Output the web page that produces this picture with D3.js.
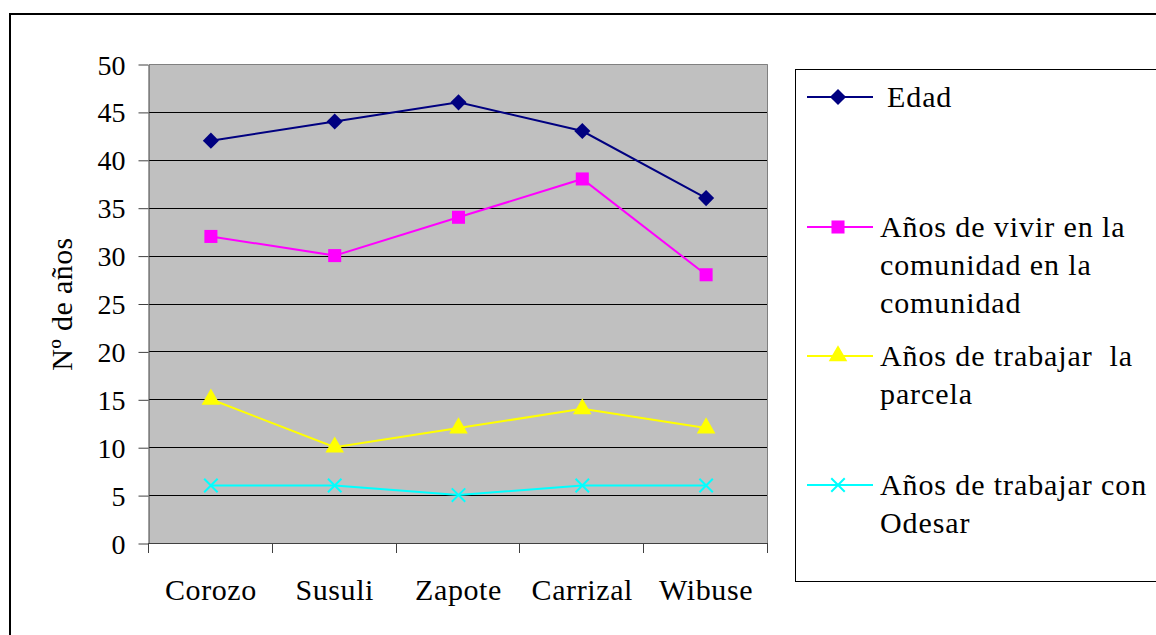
<!DOCTYPE html>
<html>
<head>
<meta charset="utf-8">
<script src="https://cdn.jsdelivr.net/npm/d3@7"></script>
<style>
  body { margin: 0; background: #fff; }
  svg { display: block; }
</style>
</head>
<body>
<svg width="1156" height="635"></svg>
<script>
const WIDTH = 1156;
const HEIGHT = 635;
const FONT = 'Liberation Serif';

// data
const CATEGORIES = ['Corozo', 'Susuli', 'Zapote', 'Carrizal', 'Wibuse'];
const EDAD = [42, 44, 46, 43, 36];
const VIVIR = [32, 30, 34, 38, 28];
const PARCELA = [15, 10, 12, 14, 12];
const ODESAR = [6, 6, 5, 6, 6];
const Y_TICKS = [0, 5, 10, 15, 20, 25, 30, 35, 40, 45, 50];

const SERIES = [
  {name: ['Edad'], values: EDAD, color: '#000080', symbol: d3.symbolSquare, size: 130, rotate: 45},
  {name: ['Años de vivir en la', 'comunidad en la', 'comunidad'], values: VIVIR, color: '#FF00FF', symbol: d3.symbolSquare, size: 170, rotate: 0},
  {name: ['Años de trabajar  la', 'parcela'], values: PARCELA, color: '#FFFF00', symbol: d3.symbolTriangle, size: 150, rotate: 0},
  {name: ['Años de trabajar con', 'Odesar'], values: ODESAR, color: '#00FFFF', symbol: d3.symbolTimes, size: 120, rotate: 0},
];

const plot = {left: 149, top: 64, right: 768, bottom: 543};

const svg = d3.select('svg');

function serif(sel, size, spacing) {
  sel.attr('font-family', FONT)
    .attr('font-size', size)
    .attr('fill', '#000');
  if (spacing) sel.attr('letter-spacing', spacing);
  return sel;
}

// outer chart frame (runs off the page on right/bottom)
svg.append('rect')
  .attr('x', 10).attr('y', 14)
  .attr('width', WIDTH + 20).attr('height', HEIGHT + 20)
  .attr('fill', 'none').attr('stroke', '#000').attr('stroke-width', 2);

const x = d3.scaleBand().domain(CATEGORIES).range([plot.left, plot.right]);
const y = d3.scaleLinear().domain([0, 50]).range([plot.bottom, plot.top]);

// plot background
svg.append('rect')
  .attr('x', plot.left).attr('y', plot.top)
  .attr('width', plot.right - plot.left).attr('height', plot.bottom - plot.top)
  .attr('fill', '#C0C0C0');

// gridlines
svg.append('g')
  .selectAll('line')
  .data(Y_TICKS.filter((t) => t > 0 && t < 50))
  .join('line')
  .attr('x1', plot.left).attr('x2', plot.right)
  .attr('y1', (d) => Math.round(y(d)) + 0.5).attr('y2', (d) => Math.round(y(d)) + 0.5)
  .attr('stroke', '#000').attr('stroke-width', 1);

// plot border top/right
svg.append('path')
  .attr('d', `M${plot.left},${plot.top + 0.5}H${plot.right - 0.5}V${plot.bottom}`)
  .attr('fill', 'none').attr('stroke', '#808080').attr('stroke-width', 1);

// y axis
const yAxis = svg.append('g')
  .attr('transform', `translate(${plot.left - 0.5},0.5)`)
  .call(d3.axisLeft(y).tickValues(Y_TICKS).tickSize(10).tickPadding(13).tickSizeOuter(0))
  .attr('font-family', FONT);
yAxis.select('.domain').attr('stroke', '#404040');
yAxis.selectAll('.tick line').attr('stroke', '#404040');
serif(yAxis.selectAll('.tick text'), 28).attr('dy', '0.34em');

// x axis: tick marks at category boundaries
const boundaries = CATEGORIES.map((c) => x(c)).concat([x.range()[1]]);
svg.append('g')
  .selectAll('line')
  .data(boundaries)
  .join('line')
  .attr('x1', (d) => Math.round(d) - 0.5).attr('x2', (d) => Math.round(d) - 0.5)
  .attr('y1', plot.bottom).attr('y2', plot.bottom + 10)
  .attr('stroke', '#404040');
svg.append('line')
  .attr('x1', plot.left).attr('x2', plot.right)
  .attr('y1', plot.bottom + 0.5).attr('y2', plot.bottom + 0.5)
  .attr('stroke', '#404040');

const xAxis = svg.append('g')
  .attr('transform', `translate(0,${plot.bottom})`)
  .call(d3.axisBottom(x).tickSize(0).tickPadding(0))
  .attr('font-family', FONT);
xAxis.select('.domain').remove();
serif(xAxis.selectAll('.tick text'), 30, 0.6).attr('y', 57).attr('dy', 0);

// y title
serif(svg.append('text'), 30, 0.4)
  .attr('transform', 'translate(72,304) rotate(-90)')
  .attr('text-anchor', 'middle')
  .text('Nº de años');

// series
const cx = (i) => x(CATEGORIES[i]) + x.bandwidth() / 2;
const line = d3.line().x((d, i) => cx(i)).y((d) => y(d));

function marker(sel, s) {
  return sel
    .attr('d', d3.symbol().type(s.symbol).size(s.size))
    .attr('fill', s.symbol === d3.symbolTimes ? 'none' : s.color)
    .attr('stroke', s.color)
    .attr('stroke-width', s.symbol === d3.symbolTimes ? 2 : 0);
}

SERIES.forEach((s) => {
  const g = svg.append('g');
  g.append('path')
    .attr('d', line(s.values))
    .attr('fill', 'none')
    .attr('stroke', s.color)
    .attr('stroke-width', 2);
  g.selectAll('path.m')
    .data(s.values)
    .join('path')
    .attr('class', 'm')
    .attr('transform', (d, i) => `translate(${cx(i)},${y(d)}) rotate(${s.rotate})`)
    .call(marker, s);
});

// legend
const legend = {left: 795, top: 69, bottom: 581};
svg.append('rect')
  .attr('x', legend.left + 0.5).attr('y', legend.top + 0.5)
  .attr('width', WIDTH).attr('height', legend.bottom - legend.top)
  .attr('fill', '#fff').attr('stroke', '#000').attr('stroke-width', 1);

const LEGEND_Y = [97, 227, 356, 485];
const LINE_GAP = 38;

SERIES.forEach((s, k) => {
  const ly = LEGEND_Y[k];
  const g = svg.append('g');
  g.append('line')
    .attr('x1', 807).attr('x2', 873)
    .attr('y1', ly).attr('y2', ly)
    .attr('stroke', s.color).attr('stroke-width', 2);
  g.append('path')
    .attr('transform', `translate(838,${ly}) rotate(${s.rotate})`)
    .call(marker, s);
  const t = serif(g.append('text'), 30, 0.9)
    .attr('xml:space', 'preserve');
  s.name.forEach((ln, j) => {
    t.append('tspan')
      .attr('x', k === 0 ? 887 : 880)
      .attr('y', ly + j * LINE_GAP)
      .attr('dy', '0.34em')
      .text(ln);
  });
});
</script>
</body>
</html>
